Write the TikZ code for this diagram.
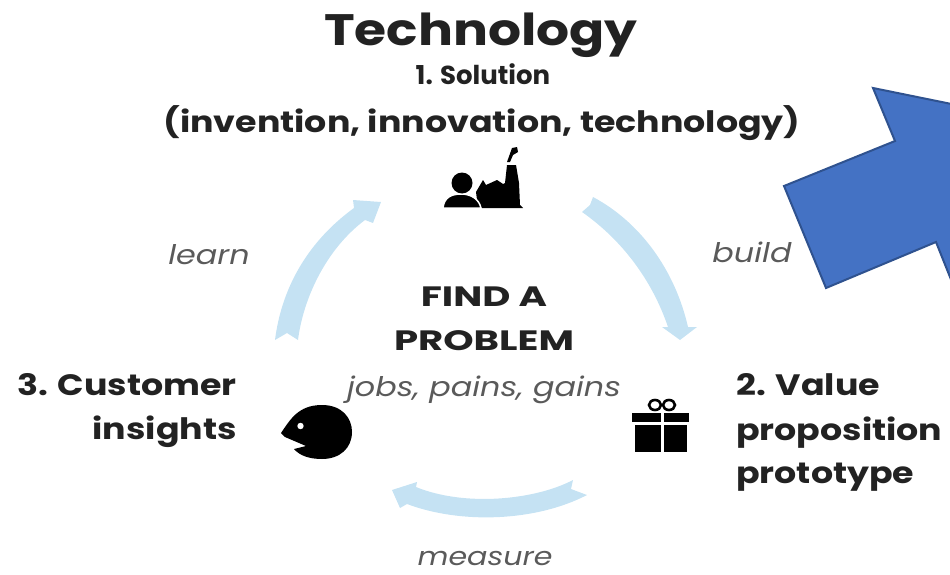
\documentclass[tikz,border=0pt]{standalone}
\usepackage{fontspec}
\setmainfont{Poppins}[FakeStretch=1.18]
\newfontfamily\widefont{Poppins}[FakeStretch=1.38]
\newfontfamily\plainfont{Poppins}
\usetikzlibrary{positioning}
\definecolor{cyclearrow}{HTML}{C5E2F3}
\definecolor{shapeblue}{HTML}{4472C4}
\definecolor{shapeedge}{HTML}{2F528F}
\definecolor{softgray}{HTML}{5A5A5A}
\definecolor{titleblack}{HTML}{222222}
\tikzset{
  titletext/.style={font=\bfseries\fontsize{44}{44}\selectfont,text=titleblack,inner sep=0pt,anchor=base},
  headtext/.style={font=\bfseries\fontsize{29.5}{30}\selectfont,text=titleblack,inner sep=0pt,anchor=base},
  solutiontext/.style={font=\plainfont\bfseries\fontsize{26}{26}\selectfont,text=titleblack,inner sep=0pt,anchor=base},
  problemtext/.style={font=\widefont\bfseries\fontsize{28}{28}\selectfont,text=titleblack,inner sep=0pt,anchor=base},
  softtext/.style={font=\itshape\fontsize{27}{27}\selectfont,text=softgray,inner sep=0pt,anchor=base},
  cyclefill/.style={fill=cyclearrow,draw=none},
  iconfill/.style={fill=black,draw=none},
}
\begin{document}
\begin{tikzpicture}[x=1pt,y=-1pt]
  \useasboundingbox (0,0) rectangle (950,575);
    \node[titletext] (title) at (481,46) {Technology};
    \node[solutiontext] (solution) at (483,85) {1. Solution};
    \node[headtext] (solutionsub) at (482,132) {(invention, innovation, technology)};
    \node[softtext] (learn) at (209,264) {learn};
    \node[softtext] (build) at (752,262) {build};
    \node[problemtext] (finda) at (484,306) {FIND A};
    \node[problemtext] (problem) at (484,350) {PROBLEM};
    \node[softtext] (jobs) at (484,396) {jobs, pains, gains};
    \node[headtext,anchor=base east] (customer) at (237,395) {3. Customer};
    \node[headtext,anchor=base east] (insights) at (237,439) {insights};
    \node[headtext,anchor=base west] (value) at (736,395) {2. Value};
    \node[headtext,anchor=base west] (proposition) at (736,440) {proposition};
    \node[headtext,anchor=base west] (prototype) at (736,483) {prototype};
    \node[softtext,font=\itshape\fontsize{25.5}{26}\selectfont] (measure) at (485,565) {measure};
    % cycle arrows
    \fill[cyclefill] (593,197) -- (590,205) -- (582,212)
      .. controls (622,240) and (652,280) .. (668,327)
      -- (662,327) -- (680,340) -- (697,327) -- (688,327)
      .. controls (675,270) and (640,222) .. (593,197) -- cycle;
    \fill[cyclefill] (573,480) -- (571,489) -- (587,495)
      .. controls (535,522) and (460,524) .. (407,504)
      -- (400,508) -- (392,490) -- (417,482) -- (416,487)
      .. controls (465,507) and (535,500) .. (573,480) -- cycle;
    \fill[cyclefill] (275,340) -- (287,333) -- (298,340)
      .. controls (303,300) and (325,250) .. (365,220)
      -- (373,223) -- (381,202) -- (353,200) -- (354,208)
      .. controls (310,240) and (282,285) .. (275,340) -- cycle;
    % factory and person
    \fill[iconfill] (478,208) -- (476,192) -- (483,180) -- (486,185) -- (497,180)
      -- (503,184) -- (505,183) -- (507,165) -- (516,165) -- (519,183) -- (520,205) -- (523,208) -- cycle;
    \fill[iconfill] (507,162) -- (512,148) -- (517,147) -- (518,152) -- (513,155) -- (510,162) -- cycle;
    \draw[white,line width=1.5pt,fill=black] (443,208) .. controls (444,197) and (452,194) .. (461,194)
      .. controls (471,194) and (479,199) .. (481,208) -- cycle;
    \fill[iconfill] (462,183) circle (10.5);
    % face
    \fill[iconfill] (281,433) .. controls (290,420) and (298,405) .. (322,405)
      .. controls (342,405) and (352,418) .. (352,432)
      .. controls (352,448) and (340,459) .. (322,459)
      .. controls (310,459) and (300,456) .. (294,449)
      -- (306,446) -- (285,437) -- cycle;
    \fill[white] (300.5,426) circle (3.2);
    % gift box
    \fill[iconfill] (632,413) rectangle (689,422);
    \fill[iconfill] (635,425) rectangle (660.5,452);
    \fill[iconfill] (663.5,425) rectangle (687,452);
    \fill[white] (660.5,413) rectangle (663.5,422);
    \draw[black,line width=2.6pt] (655,405) ellipse (6 and 5);
    \draw[black,line width=2.6pt] (669,405) ellipse (6 and 5);
    % big arrow
    \begin{scope}
      \clip (0,0) rectangle (950,575);
      \draw[fill=shapeblue,draw=shapeedge,line width=2pt]
        (873,88) -- (895,141) -- (784,186) -- (826,288) -- (936,242) -- (956,292) -- (1030,120) -- cycle;
    \end{scope}
\end{tikzpicture}
\end{document}
